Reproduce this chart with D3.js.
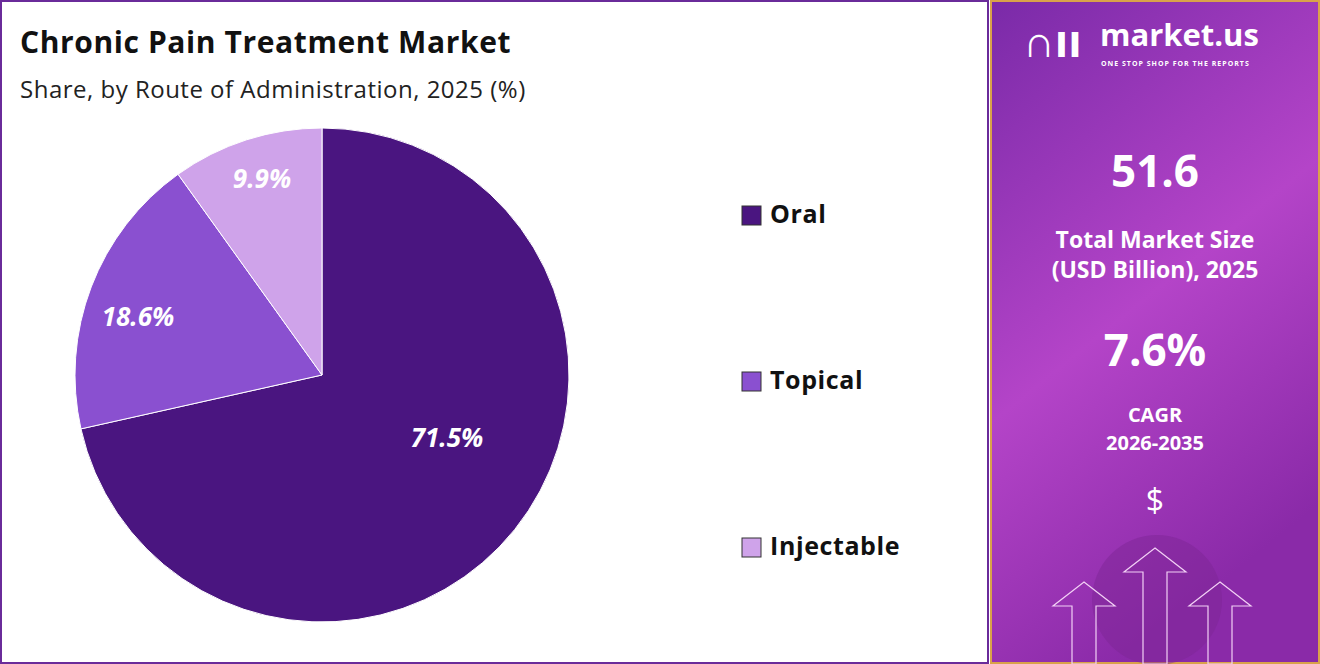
<!DOCTYPE html>
<html>
<head>
  <meta charset="UTF-8">
  <title>Chronic Pain Treatment Market</title>
  <script src="https://cdnjs.cloudflare.com/ajax/libs/d3/7.8.5/d3.min.js"></script>
  <style>
    body { margin: 0; font-family: "Open Sans", sans-serif; }
  </style>
</head>
<body>
<script>
  var categories = ["Oral", "Topical", "Injectable"],
      shares = [71.5, 18.6, 9.9],
      colors = ["#4a1580", "#8a50d0", "#cfa3ea"];
  var marketSize = "51.6", cagr = "7.6%";

  var W = 1320, H = 664;
  var svg = d3.select("body").append("svg").attr("width", W).attr("height", H);

  // left panel
  svg.append("rect").attr("x", 1).attr("y", 1).attr("width", 987).attr("height", H - 2)
      .attr("fill", "#fff").attr("stroke", "#6a2b9a").attr("stroke-width", 2);

  svg.append("text").attr("x", 20).attr("y", 53).text("Chronic Pain Treatment Market")
      .attr("font-size", 30).attr("font-weight", 700).attr("letter-spacing", 0.6).attr("fill", "#111");
  svg.append("text").attr("x", 20).attr("y", 98).text("Share, by Route of Administration, 2025 (%)")
      .attr("font-size", 24).attr("letter-spacing", 0.5).attr("fill", "#222");

  var cx = 322, cy = 375, r = 247;
  var pie = d3.pie().sort(null).value(function (d) { return d; });
  var arcs = pie(shares);
  var arc = d3.arc().innerRadius(0).outerRadius(r);
  var g = svg.append("g").attr("transform", "translate(" + cx + "," + cy + ")");
  g.selectAll("path").data(arcs).enter().append("path")
      .attr("d", arc).attr("fill", function (d, i) { return colors[i]; })
      .attr("stroke", "#fff").attr("stroke-width", 1);

  var labelPos = [[125, 65], [-184, -56], [-60, -194]];
  g.selectAll("text.lbl").data(arcs).enter().append("text")
      .attr("x", function (d, i) { return labelPos[i][0]; })
      .attr("y", function (d, i) { return labelPos[i][1]; })
      .attr("text-anchor", "middle").attr("dominant-baseline", "middle")
      .attr("font-size", 26).attr("font-weight", 700).attr("font-style", "italic")
      .attr("fill", "#fff")
      .text(function (d) { return d.data.toFixed(1) + "%"; });

  // legend
  var ly = d3.scalePoint().domain(categories).range([215, 547]);
  var lg = svg.append("g").selectAll("g").data(categories).enter().append("g")
      .attr("transform", function (d) { return "translate(742," + ly(d) + ")"; });
  lg.append("rect").attr("x", 0).attr("y", -9).attr("width", 19).attr("height", 19)
      .attr("fill", function (d, i) { return colors[i]; }).attr("stroke", "#333").attr("stroke-width", 1);
  lg.append("text").attr("x", 28).attr("y", 1).attr("dominant-baseline", "middle")
      .attr("font-size", 25).attr("font-weight", 700).attr("letter-spacing", 0.6)
      .attr("fill", "#111").text(function (d) { return d; });

  // right panel
  var defs = svg.append("defs");
  var grad = defs.append("linearGradient").attr("id", "pg").attr("x1", 0).attr("y1", 0).attr("x2", 0.4).attr("y2", 1);
  grad.append("stop").attr("offset", 0).attr("stop-color", "#7a2aa8");
  grad.append("stop").attr("offset", 0.55).attr("stop-color", "#b444c8");
  grad.append("stop").attr("offset", 1).attr("stop-color", "#8a2aa8");
  svg.append("rect").attr("x", 991).attr("y", 1).attr("width", 328).attr("height", H - 2)
      .attr("fill", "url(#pg)").attr("stroke", "#d9a24a").attr("stroke-width", 2);
  svg.append("circle").attr("cx", 1157).attr("cy", 600).attr("r", 65).attr("fill", "#7d2596").attr("opacity", 0.5);

  var px = 1155;
  svg.append("text").attr("x", 1023).attr("y", 57).text("\u2229\u0131\u0131").attr("font-size", 44)
      .attr("font-weight", 700).attr("fill", "#fff");
  svg.append("text").attr("x", 1100).attr("y", 46).text("market.us").attr("font-size", 31)
      .attr("font-weight", 700).attr("fill", "#fff");
  svg.append("text").attr("x", 1101).attr("y", 66).text("ONE STOP SHOP FOR THE REPORTS")
      .attr("font-size", 7).attr("font-weight", 700).attr("letter-spacing", 1).attr("fill", "#fff");

  function t(y, s, size) {
    svg.append("text").attr("x", px).attr("y", y).attr("text-anchor", "middle")
        .attr("font-size", size).attr("font-weight", 700).attr("fill", "#fff").text(s);
  }
  t(187, marketSize, 44);
  t(248, "Total Market Size", 23);
  t(278, "(USD Billion), 2025", 23);
  t(366, cagr, 44);
  t(422, "CAGR", 20);
  t(450, "2026-2035", 20);
  svg.append("text").attr("x", px).attr("y", 512).attr("text-anchor", "middle")
      .attr("font-size", 32).attr("fill", "#fff").text("$");

  function arrow(x, top, w) {
    var p = [[x, top], [x + w / 2, top + 24], [x + 12, top + 24], [x + 12, 664],
             [x - 12, 664], [x - 12, top + 24], [x - w / 2, top + 24]];
    svg.append("polygon").attr("points", p.map(String).join(" "))
        .attr("fill", "none").attr("stroke", "#f2d0f5").attr("stroke-width", 1.2);
  }
  arrow(1084, 582, 62);
  arrow(1155, 548, 62);
  arrow(1220, 582, 62);
</script>
</body>
</html>
